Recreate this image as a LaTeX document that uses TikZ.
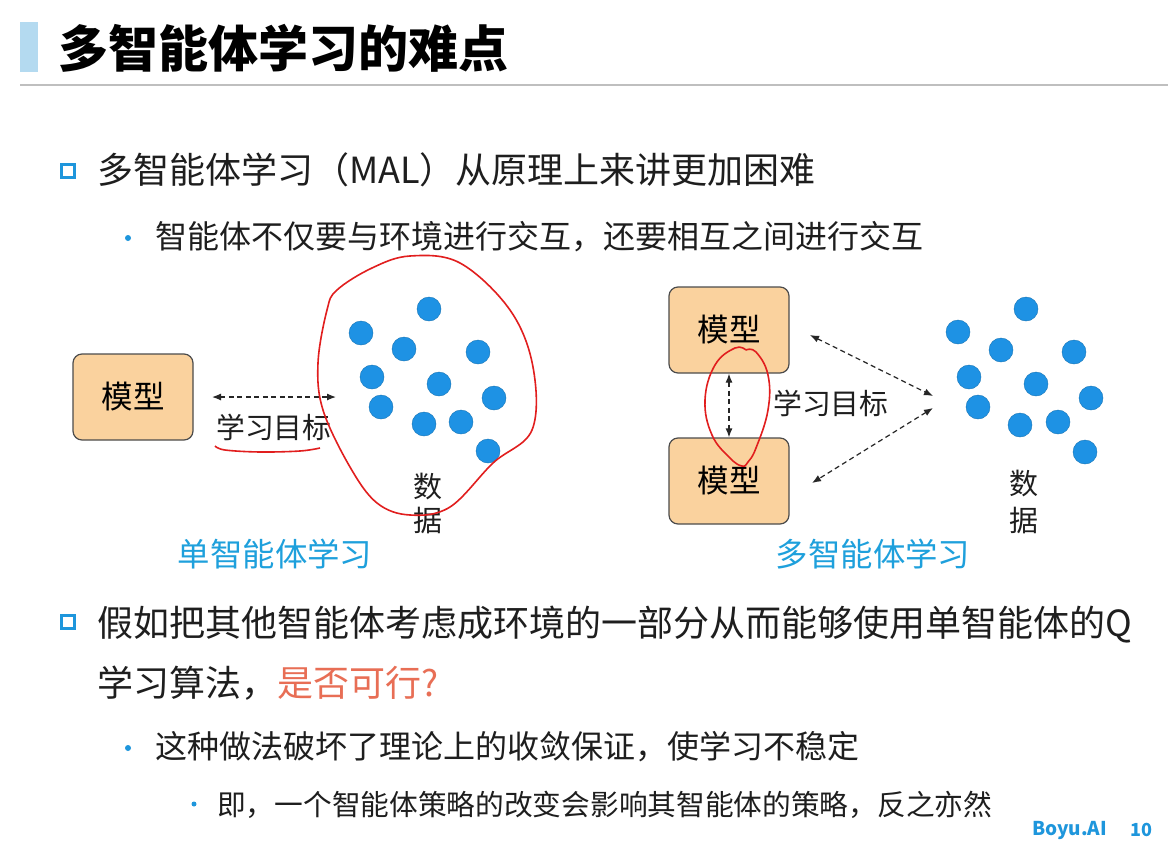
\documentclass[tikz,border=0pt]{standalone}
\usepackage{fontspec}
\setmainfont{Noto Sans CJK SC}
\usetikzlibrary{arrows.meta}
\definecolor{barblue}{RGB}{180,218,240}
\definecolor{bulletblue}{RGB}{30,150,220}
\definecolor{dotblue}{RGB}{30,146,228}
\definecolor{labelblue}{RGB}{30,160,220}
\definecolor{boxfill}{RGB}{250,210,158}
\definecolor{redink}{RGB}{225,30,30}
\definecolor{qred}{RGB}{232,110,85}
\definecolor{textgray}{RGB}{30,30,30}
\begin{document}
\begin{tikzpicture}[x=1pt,y=-1pt,
  txt/.style={inner sep=0, anchor=west, text=textgray},
  model/.style={draw=black!70, line width=1.2pt, fill=boxfill, rounded corners=9pt, minimum width=120pt, minimum height=86pt, inner sep=0, font=\fontsize{31.5}{31.5}\selectfont},
  datadot/.style={circle, fill=dotblue, draw=dotblue!80!black, line width=0.4pt, inner sep=0, minimum size=24pt},
  dasharrow/.style={dash pattern=on 5pt off 3.5pt, {Latex[length=9pt,width=7pt]}-{Latex[length=9pt,width=7pt]}, line width=1.2pt, black!85},
  redline/.style={draw=redink, line width=1.6pt},
  sqbullet/.style={draw=bulletblue, line width=2.6pt, minimum size=13pt, inner sep=0},
  dotbullet/.style={circle, fill=bulletblue, minimum size=6pt, inner sep=0}]
\useasboundingbox (0,0) rectangle (1168,841);
\fill[white] (0,0) rectangle (1168,841);
% title
\fill[barblue] (20,22) rectangle (38,72);
\node[txt, font=\fontsize{50}{50}\selectfont\bfseries, text=black] (title) at (58,48) {多智能体学习的难点};
\draw[black!25, line width=1.5pt] (20,85) -- (1168,85);
% bullet 1
\node[sqbullet] (b1) at (68,171) {};
\node[txt, font=\fontsize{36}{36}\selectfont] (t1) at (97,170) {多智能体学习（MAL）从原理上来讲更加困难};
\node[dotbullet] (b2) at (128,238) {};
\node[txt, font=\fontsize{32}{32}\selectfont] (t2) at (155,237) {智能体不仅要与环境进行交互，还要相互之间进行交互};
% left diagram
\node[model] (m0) at (133,397) {模型};
\coordinate (la) at (212,397);
\coordinate (lb) at (336,397);
\draw[dasharrow] (la) -- (lb);
\node[txt, font=\fontsize{28.8}{28.8}\selectfont] (g0) at (216,427) {学习目标};
\foreach \n/\x/\y in {1/429/309,2/361/333,3/404/349,4/478/352,5/372/377,6/439/384,7/494/398,8/381/407,9/424/424,10/461/422,11/488/451}
  \node[datadot] (ld\n) at (\x,\y) {};
\node[txt, anchor=center, font=\fontsize{29}{29}\selectfont] (ds0) at (428,487) {数};
\node[txt, anchor=center, font=\fontsize{29}{29}\selectfont] (dj0) at (428,521) {据};
\node[txt, anchor=center, text=labelblue, font=\fontsize{32.4}{32.4}\selectfont] (lab0) at (275,554) {单智能体学习};
% red annotations left
\draw[redline] plot[smooth cycle, tension=0.6] coordinates {(337,290) (372,268) (410,256) (460,263) (510,310) (533,367) (532,430) (493,463) (450,507) (410,515) (377,503) (350,467) (323,410) (318,363) (327,310)};
\draw[redline] plot[smooth, tension=0.6] coordinates {(215,446) (225,450) (260,452) (300,451) (320,448)};
% right diagram
\node[model] (m1) at (729,330) {模型};
\node[model] (m2) at (729,481) {模型};
\draw[dasharrow] (m1.south) -- (m2.south |- m2.north);
\node[txt, font=\fontsize{28.8}{28.8}\selectfont] (g1) at (773,403) {学习目标};
\coordinate (ra) at (810,335);
\coordinate (rb) at (933,396);
\coordinate (rc) at (933,408);
\coordinate (rd) at (812,483);
\draw[dasharrow] (ra) -- (rb);
\draw[dasharrow] (rc) -- (rd);
\foreach \n/\x/\y in {1/1026/309,2/958/332,3/1001/350,4/1074/352,5/969/377,6/1036/384,7/1091/398,8/978/407,9/1020/425,10/1058/422,11/1085/452}
  \node[datadot] (rd\n) at (\x,\y) {};
\node[txt, anchor=center, font=\fontsize{29}{29}\selectfont] (ds1) at (1024,484) {数};
\node[txt, anchor=center, font=\fontsize{29}{29}\selectfont] (dj1) at (1024,521) {据};
\node[txt, anchor=center, text=labelblue, font=\fontsize{32.4}{32.4}\selectfont] (lab1) at (873,554) {多智能体学习};
\draw[redline] plot[smooth, tension=0.7] coordinates {(746,350) (735,348) (715,365) (705,400) (712,435) (730,458) (742,466) (748,462) (756,448) (768,410) (768,375) (756,352) (746,350)};
% bullet 2
\node[sqbullet] (b3) at (68,622) {};
\node[txt, font=\fontsize{36}{36}\selectfont] (t3) at (97,625) {假如把其他智能体考虑成环境的一部分从而能够使用单智能体的Q};
\node[txt, font=\fontsize{36}{36}\selectfont] (t4) at (97,683) {学习算法，\textcolor{qred}{是否可行?}};
\node[dotbullet] (b4) at (128,748) {};
\node[txt, font=\fontsize{32}{32}\selectfont] (t5) at (155,747) {这种做法破坏了理论上的收敛保证，使学习不稳定};
\node[dotbullet, minimum size=5pt] (b5) at (194,804) {};
\node[txt, font=\fontsize{28.7}{28.7}\selectfont] (t6) at (217,805) {即，一个智能体策略的改变会影响其智能体的策略，反之亦然};
\node[txt, text=bulletblue, font=\fontsize{19}{19}\selectfont\bfseries] (logo) at (1032,830) {Boyu.AI};
\node[txt, text=bulletblue, font=\fontsize{18}{18}\selectfont\bfseries] (pg) at (1130,830) {10};
\end{tikzpicture}
\end{document}
